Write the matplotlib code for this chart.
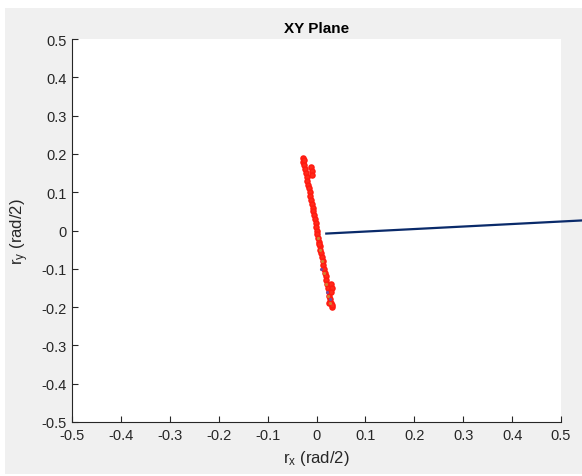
import numpy as np
import matplotlib
matplotlib.use('Agg')
import matplotlib.pyplot as plt
from matplotlib.patches import Rectangle

# trajectory in the XY plane
rx = [-0.028, -0.027, -0.025, -0.023, -0.022, -0.020, -0.019, -0.017, -0.016, -0.014,
      -0.013, -0.011, -0.010, -0.008, -0.007, -0.005, -0.004, -0.002, -0.001, 0.001,
      0.002, 0.004, 0.005, 0.007, 0.008, 0.010, 0.011, 0.013, 0.014, 0.016,
      0.017, 0.019, 0.020, 0.022, 0.023, 0.025, 0.026, 0.028, 0.029, 0.031,
      -0.012, -0.010, -0.009, 0.029, 0.031, 0.029, 0.026, 0.032, -0.026, 0.006]
ry = [0.19, 0.18, 0.17, 0.16, 0.15, 0.14, 0.13, 0.12, 0.11, 0.10,
      0.09, 0.08, 0.07, 0.06, 0.05, 0.04, 0.03, 0.02, 0.01, 0.0,
      -0.01, -0.02, -0.03, -0.04, -0.05, -0.06, -0.07, -0.08, -0.09, -0.10,
      -0.11, -0.12, -0.13, -0.14, -0.15, -0.16, -0.17, -0.18, -0.19, -0.20,
      0.165, 0.155, 0.145, -0.14, -0.15, -0.16, -0.19, -0.195, 0.185, -0.035]

# inner dots (orange / purple specks)
dx = [0.004, 0.008, 0.012, 0.016, 0.020, 0.024, 0.027]
dy = [-0.02, -0.05, -0.08, -0.11, -0.14, -0.17, -0.19]
px = [0.010, 0.022, 0.028]
py = [-0.10, -0.16, -0.18]

# direction vector
vx = [0.020, 0.60]
vy = [-0.008, 0.030]

xticks = [-0.5, -0.4, -0.3, -0.2, -0.1, 0, 0.1, 0.2, 0.3, 0.4, 0.5]
yticks = [-0.5, -0.4, -0.3, -0.2, -0.1, 0, 0.1, 0.2, 0.3, 0.4, 0.5]

plt.rcParams['font.family'] = ['Liberation Sans', 'DejaVu Sans']
plt.rcParams['mathtext.fontset'] = 'custom'
plt.rcParams['mathtext.rm'] = 'Liberation Sans'
plt.rcParams['mathtext.it'] = 'Liberation Sans'

fig = plt.figure(figsize=(5.82, 4.77), dpi=100, facecolor='white')
fig.patches.append(Rectangle((5 / 582, 2 / 477), 1, (477 - 11) / 477,
                             transform=fig.transFigure, facecolor='#f0f0f0',
                             edgecolor='none', zorder=-10))
ax = fig.add_axes([72 / 582, 1 - 423 / 477, 489 / 582, 383 / 477])
ax.set_facecolor('white')

ax.plot(rx, ry, 'o', color='#ff1a10', markersize=3.6, markeredgewidth=1.1,
        markerfacecolor='#ff2a1a', zorder=3)
ax.plot(dx, dy, '.', color='#d08030', markersize=2.5, zorder=4)
ax.plot(px, py, '.', color='#7a4a9a', markersize=2.5, zorder=4)
ax.plot(vx, vy, '-', color='#0a2a6a', linewidth=1.6, clip_on=False, zorder=5)

ax.set_xlim(-0.5, 0.5)
ax.set_ylim(-0.5, 0.5)
ax.set_xticks(xticks)
ax.set_yticks(yticks)
ax.set_xticklabels([f'{t:g}' for t in xticks])
ax.set_yticklabels([f'{t:g}' for t in yticks])
ax.tick_params(direction='in', length=4, width=0.8, colors='#262626',
               labelsize=10.5, pad=4)
for s in ['top', 'right']:
    ax.spines[s].set_visible(False)
for s in ['left', 'bottom']:
    ax.spines[s].set_color('#262626')
    ax.spines[s].set_linewidth(0.8)

ax.set_title('XY Plane', fontsize=11, fontweight='bold', color='black', pad=5)
ax.set_xlabel(r'$\mathregular{r_x}$ (rad/2)', fontsize=12, color='#262626', labelpad=5)
ax.set_ylabel(r'$\mathregular{r_y}$ (rad/2)', fontsize=12, color='#262626', labelpad=7)

fig.savefig('out.png', dpi=100, facecolor=fig.get_facecolor())
